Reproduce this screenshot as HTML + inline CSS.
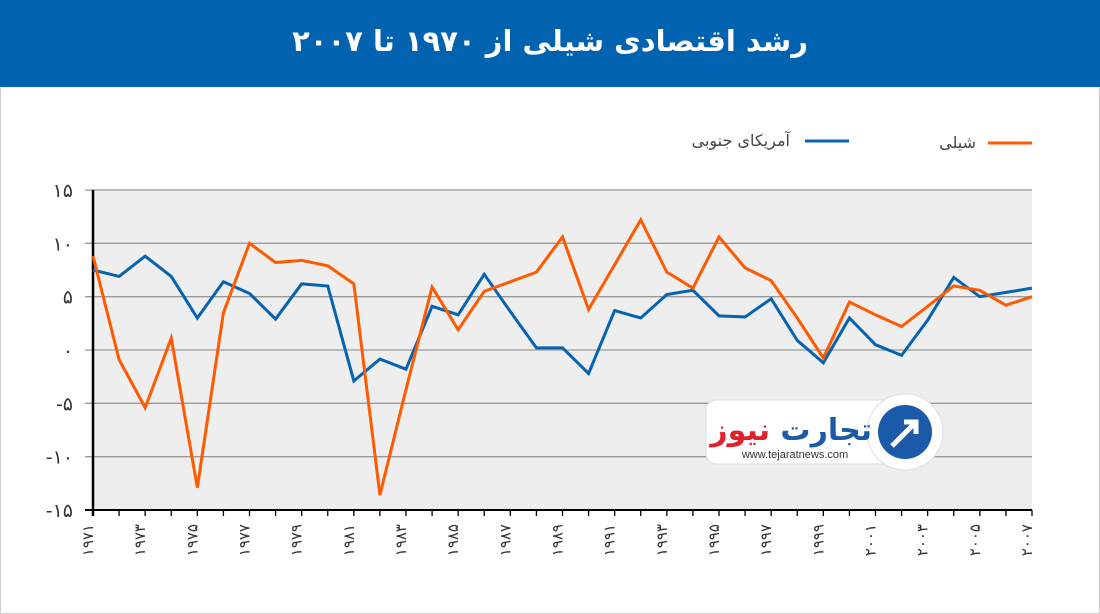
<!DOCTYPE html>
<html><head><meta charset="utf-8">
<style>
body{margin:0;width:1100px;height:614px;background:#fff;overflow:hidden;font-family:"DejaVu Sans","Liberation Sans",sans-serif;}
#frame{position:absolute;left:0;top:0;width:1098px;height:612px;border:1px solid #cfcfcf;}
#title{position:absolute;left:0;top:0;width:1100px;height:87px;background:#0162b0;color:#fff;font-weight:bold;font-size:29px;text-align:center;line-height:82px;direction:rtl;}
svg{position:absolute;left:0;top:0;}
</style></head>
<body>
<div id="frame"></div>
<div id="title">رشد اقتصادی شیلی از ۱۹۷۰ تا ۲۰۰۷</div>
<svg id="chart" width="1100" height="614"></svg>
<script>
const years=[1971,1972,1973,1974,1975,1976,1977,1978,1979,1980,1981,1982,1983,1984,1985,1986,1987,1988,1989,1990,1991,1992,1993,1994,1995,1996,1997,1998,1999,2000,2001,2002,2003,2004,2005,2006,2007];
const chile=[8.8,-0.9,-5.4,1.1,-12.9,3.5,10.0,8.2,8.4,7.9,6.2,-13.6,-3.7,5.9,1.9,5.5,6.4,7.3,10.6,3.8,8.0,12.2,7.3,5.8,10.6,7.7,6.5,3.0,-0.75,4.5,3.3,2.2,4.1,6.0,5.6,4.2,5.0];
const southAmerica=[7.5,6.9,8.8,6.9,3.0,6.4,5.3,2.9,6.2,6.0,-2.9,-0.85,-1.8,4.1,3.3,7.1,3.6,0.2,0.2,-2.2,3.7,3.0,5.2,5.6,3.2,3.1,4.8,0.9,-1.2,3.0,0.5,-0.5,2.8,6.8,5.0,5.4,5.8];
const yTicks=[15,10,5,0,-5,-10,-15];
const yTickLabels=["۱۵","۱۰","۵","۰","-۵","-۱۰","-۱۵"];
const seriesNames=["شیلی","آمریکای جنوبی"];

const NS="http://www.w3.org/2000/svg";
const svg=document.getElementById('chart');
const X0=93,X1=1032,Y0=190,Y1=510,VMIN=-15,VMAX=15;
const xs=i=>X0+i*(X1-X0)/(years.length-1);
const ys=v=>Y1-(v-VMIN)/(VMAX-VMIN)*(Y1-Y0);
function mk(t,a){const e=document.createElementNS(NS,t);for(const k in a)e.setAttribute(k,a[k]);svg.appendChild(e);return e;}
function fa(n){return String(n).replace(/\d/g,d=>"۰۱۲۳۴۵۶۷۸۹"[d]);}

const bg=mk('rect',{x:X0,y:Y0,width:X1-X0,height:Y1-Y0,fill:'#eeeeee'});


yTicks.forEach((v,i)=>{
  const g=mk('line',{x1:X0-8,x2:X1,y1:ys(v),y2:ys(v),stroke:v===-15?'#000':'#9a9a9a','stroke-width':v===-15?2:1.3});
  
  
  const t=mk('text',{x:X0-20,y:ys(v)+7,'text-anchor':'end','font-size':19,fill:'#333'});
  t.textContent=yTickLabels[i];
  
  
});
const ax=mk('line',{x1:X0,x2:X0,y1:Y0,y2:Y1+6,stroke:'#000','stroke-width':2.5});


years.forEach((yr,i)=>{
  const tk=mk('line',{x1:xs(i),x2:xs(i),y1:Y1,y2:Y1+6,stroke:'#000','stroke-width':1.3});
  
  
  if(i%2===0){
    const t=mk('text',{x:0,y:0,'text-anchor':'end','font-size':15,fill:'#333',transform:`translate(${xs(i)},${Y1+14}) rotate(-90)`});
    t.textContent=fa(yr);
    
    
  }
});
function line(data,color,name){
  const p=mk('polyline',{points:data.map((v,i)=>xs(i)+','+ys(v)).join(' '),fill:'none',stroke:color,'stroke-width':3,'stroke-linejoin':'miter'});
  
  
}
line(southAmerica,'#0563b1','south-america-line');
line(chile,'#ff5a00','chile-line');

// legend
const l1=mk('line',{x1:988,x2:1032,y1:143,y2:143,stroke:'#ff5a00','stroke-width':3});


const t1=mk('text',{x:976,y:148,'text-anchor':'end','font-size':16,fill:'#444'});
t1.textContent=seriesNames[0];


const l2=mk('line',{x1:805,x2:849,y1:141,y2:141,stroke:'#0563b1','stroke-width':3});


const t2=mk('text',{x:790,y:146,'text-anchor':'end','font-size':16,fill:'#444'});
t2.textContent=seriesNames[1];



// watermark
const wm=mk('rect',{x:706,y:400,width:200,height:64,rx:10,fill:'#fff',stroke:'#ddd'});


const wc=mk('circle',{cx:905,cy:432,r:38,fill:'#fff',stroke:'#ddd'});


const wi=mk('circle',{cx:905,cy:432,r:27,fill:'#1a5aa8'});


const wa=mk('path',{d:'M892 446 L914 424 M904 422 L916 422 L916 434',stroke:'#fff','stroke-width':5,fill:'none'});


const wt=mk('text',{x:872,y:440,'text-anchor':'end','font-size':30,'font-weight':'bold',fill:'#1a5aa8'});
wt.innerHTML='تجارت <tspan fill="#e0202a">نیوز</tspan>';


const wu=mk('text',{x:795,y:458,'text-anchor':'middle','font-size':11,fill:'#333','font-family':'Liberation Sans'});
wu.textContent='www.tejaratnews.com';


</script>
</body></html>
